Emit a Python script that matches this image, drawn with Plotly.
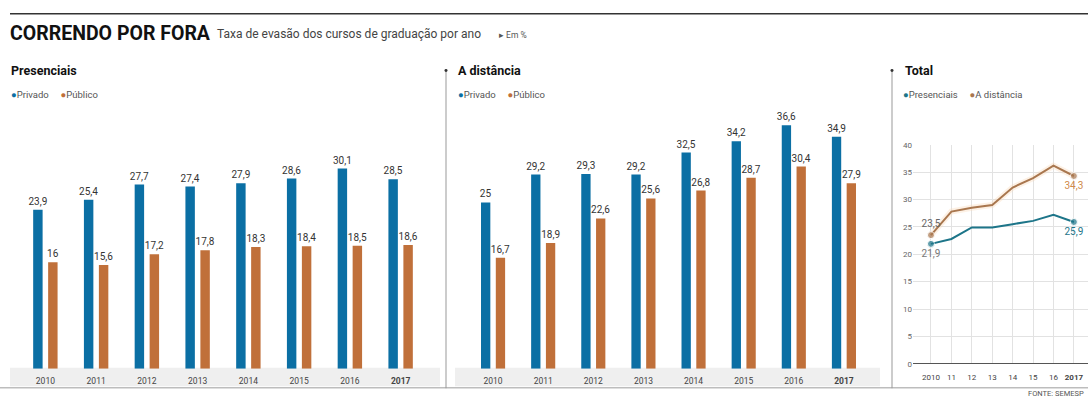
import plotly.graph_objects as go

W, H = 1088, 403

# ---------------- data ----------------
years = ["2010", "2011", "2012", "2013", "2014", "2015", "2016", "2017"]
year_ticks = ["2010", "2011", "2012", "2013", "2014", "2015", "2016", "<b>2017</b>"]

pres_privado = [23.9, 25.4, 27.7, 27.4, 27.9, 28.6, 30.1, 28.5]
pres_publico = [16.0, 15.6, 17.2, 17.8, 18.3, 18.4, 18.5, 18.6]

dist_privado = [25.0, 29.2, 29.3, 29.2, 32.5, 34.2, 36.6, 34.9]
dist_publico = [16.7, 18.9, 22.6, 25.6, 26.8, 28.7, 30.4, 27.9]

total_years = [2010, 2011, 2012, 2013, 2014, 2015, 2016, 2017]
total_ticks = ["2010", "11", "12", "13", "14", "15", "16", "<b>2017</b>"]
total_presenciais = [21.9, 22.8, 24.9, 24.9, 25.5, 26.1, 27.2, 25.9]
total_distancia = [23.5, 27.8, 28.5, 29.0, 32.2, 33.9, 36.2, 34.3]

series_bar = ["Privado", "Público"]
series_line = ["Presenciais", "A distância"]

BLUE = "#0b6fa4"
ORANGE = "#c0703a"
TEAL = "#1d7589"
BROWN = "#a9774f"

FONT = "Roboto, Arial, sans-serif"


def fx(px):
    return px / W


def fy(py):
    return 1 - py / H


def fmt(v):
    s = ("%g" % v)
    return s.replace(".", ",")


def end_labels(vals):
    return [fmt(v) if i in (0, len(vals) - 1) else "" for i, v in enumerate(vals)]


fig = go.Figure()

# ---------------- bar panels ----------------
for vals, color, name, xa, ya in [
    (pres_privado, BLUE, series_bar[0], "x", "y"),
    (pres_publico, ORANGE, series_bar[1], "x", "y"),
    (dist_privado, BLUE, series_bar[0], "x2", "y2"),
    (dist_publico, ORANGE, series_bar[1], "x2", "y2"),
]:
    fig.add_trace(go.Bar(
        x=years, y=vals, name=name, marker=dict(color=color, line=dict(width=0)),
        text=[fmt(v) for v in vals], textposition="outside", constraintext="none",
        textfont=dict(family=FONT, size=10, color="#333"),
        cliponaxis=False, xaxis=xa, yaxis=ya, showlegend=False,
        hoverinfo="x+y",
    ))

# ---------------- line panel ----------------
fig.add_trace(go.Scatter(
    x=total_years, y=total_distancia, mode="lines",
    line=dict(color="rgba(248,215,180,0.35)", width=6),
    xaxis="x3", yaxis="y3", showlegend=False, hoverinfo="skip",
))
fig.add_trace(go.Scatter(
    x=total_years, y=total_presenciais, mode="lines+markers+text",
    name=series_line[0], line=dict(color=TEAL, width=2),
    marker=dict(color=TEAL, size=[7, 0, 0, 0, 0, 0, 0, 7]),
    text=end_labels(total_presenciais),
    textposition=["bottom center", "top center", "top center", "top center",
                  "top center", "top center", "top center", "bottom center"],
    textfont=dict(family=FONT, size=10, color=["#777", TEAL, TEAL, TEAL, TEAL, TEAL, TEAL, TEAL]),
    cliponaxis=False, xaxis="x3", yaxis="y3", showlegend=False,
))
fig.add_trace(go.Scatter(
    x=total_years, y=total_distancia, mode="lines+markers+text",
    name=series_line[1], line=dict(color=BROWN, width=2),
    marker=dict(color=BROWN, size=[7, 0, 0, 0, 0, 0, 0, 7]),
    text=end_labels(total_distancia),
    textposition=["top center", "top center", "top center", "top center",
                  "top center", "top center", "top center", "bottom center"],
    textfont=dict(family=FONT, size=10, color=["#666", ORANGE, ORANGE, ORANGE, ORANGE, ORANGE, ORANGE, "#d08a4a"]),
    cliponaxis=False, xaxis="x3", yaxis="y3", showlegend=False,
))

# ---------------- axes ----------------
bar_y_dom = [fy(373), fy(101)]
bar_xaxis = dict(type="category", showgrid=False, zeroline=False, showline=False,
                 ticks="outside", ticklen=4, tickcolor="rgba(0,0,0,0)",
                 tickvals=years, ticktext=year_ticks,
                 tickfont=dict(family=FONT, size=8.5, color="#444"))
bar_yaxis = dict(range=[0, 40], showgrid=False, zeroline=False, showline=False,
                 showticklabels=False, ticks="")

fig.update_layout(
    width=W, height=H,
    margin=dict(l=0, r=0, t=0, b=0),
    paper_bgcolor="white", plot_bgcolor="rgba(0,0,0,0)",
    barmode="group", bargap=0.41, bargroupgap=0.37,
    font=dict(family=FONT, color="#333"),
    xaxis=dict(bar_xaxis, domain=[fx(20), fx(426)], anchor="y"),
    yaxis=dict(bar_yaxis, domain=bar_y_dom, anchor="x"),
    xaxis2=dict(bar_xaxis, domain=[fx(468), fx(869)], anchor="y2"),
    yaxis2=dict(bar_yaxis, domain=bar_y_dom, anchor="x2"),
    xaxis3=dict(range=[2009.12, 2017.69], domain=[fx(913), 1.0], anchor="y3",
                tickvals=total_years, ticktext=total_ticks,
                showgrid=True, gridcolor="#e2e2e2", gridwidth=1,
                zeroline=False, showline=False,
                ticks="outside", ticklen=6, tickcolor="rgba(0,0,0,0)",
                tickfont=dict(family=FONT, size=8, color="#444")),
    yaxis3=dict(range=[0, 40], domain=[fy(368), fy(144)], anchor="x3",
                tickvals=[0, 5, 10, 15, 20, 25, 30, 35, 40],
                showgrid=True, gridcolor="#e2e2e2", gridwidth=1,
                zeroline=True, zerolinecolor="#555", zerolinewidth=1.2,
                showline=False, ticks="",
                tickfont=dict(family=FONT, size=8, color="#666")),
    hovermode="closest",
)

# ---------------- shapes ----------------
shapes = [
    # top rule
    dict(type="line", xref="paper", yref="paper", x0=fx(10), x1=1, y0=fy(10), y1=fy(10),
         line=dict(color="#333", width=1.5)),
    # gray x bands for bar panels
    dict(type="rect", xref="paper", yref="paper", x0=fx(10), x1=fx(440), y0=fy(391), y1=fy(372),
         fillcolor="#efefef", line=dict(width=0), layer="below"),
    dict(type="rect", xref="paper", yref="paper", x0=fx(455), x1=fx(880), y0=fy(391), y1=fy(372),
         fillcolor="#efefef", line=dict(width=0), layer="below"),
    # bottom rule
    dict(type="line", xref="paper", yref="paper", x0=0, x1=1, y0=fy(392.5), y1=fy(392.5),
         line=dict(color="#bdbdbd", width=1.5)),
    # vertical separators
    dict(type="line", xref="paper", yref="paper", x0=fx(446), x1=fx(446), y0=fy(68), y1=fy(393),
         line=dict(color="#999", width=1)),
    dict(type="line", xref="paper", yref="paper", x0=fx(892), x1=fx(892), y0=fy(68), y1=fy(393),
         line=dict(color="#999", width=1)),
    dict(type="circle", xref="paper", yref="paper", x0=fx(444.5), x1=fx(447.5), y0=fy(69.5), y1=fy(66.5),
         fillcolor="#333", line=dict(width=0)),
    dict(type="circle", xref="paper", yref="paper", x0=fx(890.5), x1=fx(893.5), y0=fy(69.5), y1=fy(66.5),
         fillcolor="#333", line=dict(width=0)),
]
fig.update_layout(shapes=shapes)

# ---------------- text ----------------
def ann(text, px, py, size, color="#222", bold=False, xanchor="left", yanchor="middle", family=FONT):
    return dict(text=("<b>%s</b>" % text) if bold else text, x=fx(px), y=fy(py),
                xref="paper", yref="paper", xanchor=xanchor, yanchor=yanchor,
                showarrow=False, font=dict(family=family, size=size, color=color))


def legend_text(names, colors):
    parts = []
    for n, c in zip(names, colors):
        parts.append("<span style='color:%s'>●</span>%s" % (c, n))
    return "     ".join(parts)


annotations = [
    ann("CORRENDO POR FORA", 8, 30, 19.5, "#111", bold=True),
    ann("Taxa de evasão dos cursos de graduação por ano", 215, 31, 12, "#444"),
    ann("▸ Em %", 497, 32, 8.5, "#555"),
    ann("Presenciais", 9, 68, 12.5, "#111", bold=True),
    ann("A distância", 456, 68, 12.5, "#111", bold=True),
    ann("Total", 903, 68, 12.5, "#111", bold=True),
    ann(legend_text(series_bar, [BLUE, ORANGE]), 9, 93, 9.5, "#555"),
    ann(legend_text(series_bar, [BLUE, ORANGE]), 456, 93, 9.5, "#555"),
    ann(legend_text(series_line, [TEAL, BROWN]), 901, 93, 9.5, "#555"),
    ann("FONTE: SEMESP", 1086, 398, 7.5, "#555", xanchor="right"),
]
fig.update_layout(annotations=annotations)

fig.write_html("out.html", config={"displayModeBar": False},
               post_script="document.body.style.margin='0';")
